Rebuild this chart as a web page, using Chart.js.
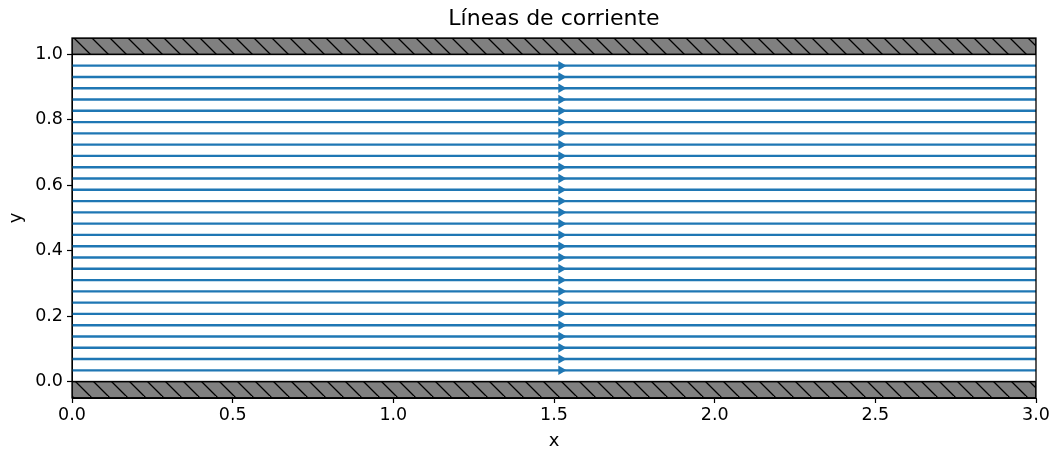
<!DOCTYPE html>
<html>
<head>
<meta charset="utf-8">
<script src="https://cdn.jsdelivr.net/npm/chart.js@4/dist/chart.umd.min.js"></script>
<style>
  html, body { margin: 0; padding: 0; background: #fff; }
  #wrap { width: 1054px; height: 451px; }
</style>
</head>
<body>
<div id="wrap"><canvas id="c" width="1054" height="451"></canvas></div>
<script>
// ---- data ----
const streamlineY = [0.0345, 0.069, 0.1034, 0.1379, 0.1724, 0.2069, 0.2414, 0.2759, 0.3103, 0.3448,
  0.3793, 0.4138, 0.4483, 0.4828, 0.5172, 0.5517, 0.5862, 0.6207, 0.6552, 0.6897,
  0.7241, 0.7586, 0.7931, 0.8276, 0.8621, 0.8966, 0.931, 0.9655];
const xRange = [0, 3];
const arrowX = 1.522;
const wallBottom = [-0.05, 0.0];
const wallTop = [1.0, 1.05];
const xTicks = [0, 0.5, 1.0, 1.5, 2.0, 2.5, 3.0];
const yTicks = [0, 0.2, 0.4, 0.6, 0.8, 1.0];
const titleText = 'Líneas de corriente';
const xLabel = 'x';
const yLabel = 'y';

// ---- hatch pattern ----
function makeHatch() {
  const s = 18;
  const t = document.createElement('canvas');
  t.width = s; t.height = s;
  const g = t.getContext('2d');
  g.fillStyle = '#808080';
  g.fillRect(0, 0, s, s);
  g.strokeStyle = '#000';
  g.lineWidth = 1.3;
  g.beginPath();
  g.moveTo(-2, -2); g.lineTo(s + 2, s + 2);
  g.moveTo(-s - 2, -2); g.lineTo(2, s + 2);
  g.moveTo(s - 2, -s - 2); g.lineTo(2 * s + 2, s + 2);
  g.stroke();
  return document.getElementById('c').getContext('2d').createPattern(t, 'repeat');
}
const hatch = makeHatch();

const datasets = [];
streamlineY.forEach(y => {
  datasets.push({
    type: 'line',
    data: [{x: xRange[0], y: y}, {x: xRange[1], y: y}],
    borderColor: '#1f77b4',
    borderWidth: 2.4,
    pointRadius: 0,
    fill: false,
    order: 2
  });
});
datasets.push({
  type: 'scatter',
  data: streamlineY.map(y => ({x: arrowX, y: y})),
  pointStyle: 'triangle',
  rotation: 90,
  pointRadius: 5.5,
  backgroundColor: '#1f77b4',
  borderColor: '#1f77b4',
  borderWidth: 0,
  order: 1
});

const wallsPlugin = {
  id: 'walls',
  afterDatasetsDraw(chart) {
    const {ctx, chartArea, scales: {x, y}} = chart;
    ctx.save();
    ctx.beginPath();
    ctx.rect(chartArea.left, chartArea.top, chartArea.right - chartArea.left, chartArea.bottom - chartArea.top);
    ctx.clip();
    [wallBottom, wallTop].forEach(w => {
      const x0 = x.getPixelForValue(xRange[0]);
      const x1 = x.getPixelForValue(xRange[1]);
      const y0 = y.getPixelForValue(w[1]);
      const y1 = y.getPixelForValue(w[0]);
      ctx.fillStyle = hatch;
      ctx.fillRect(x0, y0, x1 - x0, y1 - y0);
      ctx.strokeStyle = '#000';
      ctx.lineWidth = 1.6;
      ctx.strokeRect(x0, y0, x1 - x0, y1 - y0);
    });
    ctx.restore();
    ctx.save();
    ctx.strokeStyle = '#000';
    ctx.lineWidth = 1.3;
    ctx.strokeRect(chartArea.left, chartArea.top, chartArea.right - chartArea.left, chartArea.bottom - chartArea.top);
    ctx.restore();
  }
};

Chart.defaults.font.family = '"DejaVu Sans", sans-serif';
Chart.defaults.color = '#000';

new Chart(document.getElementById('c'), {
  data: { datasets },
  options: {
    responsive: false,
    animation: false,
    layout: { padding: { left: 0, right: 18, top: 0, bottom: 0 } },
    plugins: {
      legend: { display: false },
      tooltip: { enabled: false },
      title: {
        display: true,
        text: titleText,
        fullSize: false,
        font: { size: 22, weight: 'normal', lineHeight: 1.2 },
        color: '#000',
        padding: { top: 6, bottom: 5.6 }
      }
    },
    scales: {
      x: {
        type: 'linear',
        min: xRange[0],
        max: xRange[1],
        afterBuildTicks: s => { s.ticks = xTicks.map(v => ({value: v})); },
        afterFit: s => { s.height = 53; },
        ticks: {
          font: { size: 17.5 },
          color: '#000',
          padding: 2,
          maxRotation: 0,
          callback: v => Number(v).toFixed(1)
        },
        grid: { drawOnChartArea: false, drawTicks: true, tickLength: 5, color: '#000', tickWidth: 1.2 },
        border: { display: true, color: '#000', width: 1 },
        title: { display: true, text: xLabel, font: { size: 18 }, color: '#000', padding: { top: 0, bottom: -1 } }
      },
      y: {
        type: 'linear',
        min: -0.05,
        max: 1.05,
        afterBuildTicks: s => { s.ticks = yTicks.map(v => ({value: v})); },
        afterFit: s => { s.width = 72; },
        ticks: {
          font: { size: 17.5 },
          color: '#000',
          padding: 4,
          callback: v => Number(v).toFixed(1)
        },
        grid: { drawOnChartArea: false, drawTicks: true, tickLength: 5, color: '#000', tickWidth: 1.2 },
        border: { display: true, color: '#000', width: 1 },
        title: { display: true, text: yLabel, font: { size: 18 }, color: '#000', padding: { top: 6, bottom: 0 } }
      }
    }
  },
  plugins: [wallsPlugin]
});
</script>
</body>
</html>
